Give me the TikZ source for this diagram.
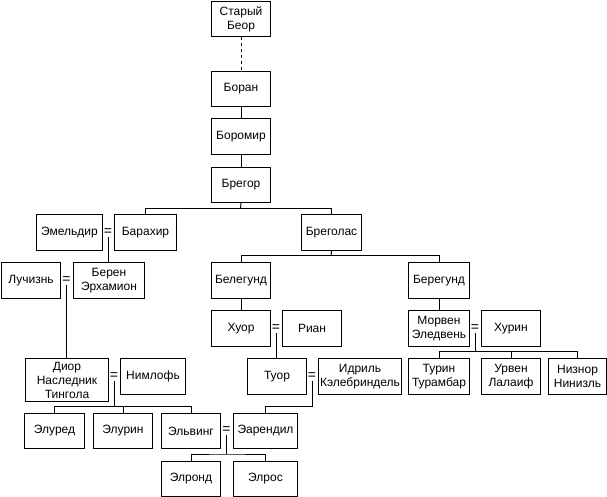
\documentclass[tikz,border=0pt]{standalone}
\usepackage{fontspec}
\setmainfont{Liberation Sans}
\begin{document}
\begin{tikzpicture}[x=1pt,y=-1pt,
  every node/.style={font=\fontsize{12}{14}\selectfont},
  box/.style={draw, line width=1pt, inner sep=0pt, anchor=north west, align=center},
  eqs/.style={inner sep=1pt, font=\fontsize{14}{14}\selectfont},
  conn/.style={line width=1pt}]
\useasboundingbox (0,0) rectangle (607,497);
\newcommand{\bx}[6]{\node[box, minimum width=#4pt, minimum height=#5pt] (#1) at (#2,#3) {#6};}
% x1 y1 width height
\bx{beor}{211}{1}{59}{35}{Старый\\Беор}
\bx{boran}{211}{71}{59}{35}{Боран}
\bx{boromir}{211}{118}{59}{36}{Боромир}
\bx{bregor}{211}{167}{59}{35}{Брегор}
\bx{emeldir}{36}{214}{66}{36}{Эмельдир}
\bx{barahir}{114}{214}{62}{36}{Барахир}
\bx{bregolas}{301}{214}{60}{36}{Бреголас}
\bx{luthien}{1}{262}{59}{36}{Лучизнь}
\bx{beren}{73}{262}{71}{36}{Берен\\Эрхамион}
\bx{belegund}{211}{262}{59}{36}{Белегунд}
\bx{beregund}{408}{262}{61}{36}{Берегунд}
\bx{huor}{211}{310}{59}{36}{Хуор}
\bx{rian}{282}{310}{59}{36}{Риан}
\bx{morwen}{408}{310}{61}{36}{Морвен\\Эледвень}
\bx{hurin}{481}{310}{59}{36}{Хурин}
\bx{dior}{25}{358}{83}{43}{Диор\\Наследник\\Тингола}
\bx{nimloth}{120}{358}{65}{36}{Нимлофь}
\bx{tuor}{247}{358}{59}{36}{Туор}
\bx{idril}{318}{358}{83}{36}{Идриль\\Кэлебриндель}
\bx{turin}{408}{358}{61}{36}{Турин\\Турамбар}
\bx{urwen}{481}{358}{59}{36}{Урвен\\Лалаиф}
\bx{nienor}{548}{358}{58}{36}{Низнор\\Нинизль}
\bx{elured}{24}{413}{60}{35}{Элуред}
\bx{elurin}{93}{413}{59}{35}{Элурин}
\bx{elwing}{161}{413}{59}{35}{Эльвинг}
\bx{earendil}{233}{413}{64}{35}{Эарендил}
\bx{elrond}{161}{461}{59}{35}{Элронд}
\bx{elros}{233}{461}{64}{35}{Элрос}
% equals signs
\node[eqs] (eq1) at (108,232) {=};
\node[eqs] (eq2) at (66.5,280) {=};
\node[eqs] (eq3) at (276,328) {=};
\node[eqs] (eq4) at (475,328) {=};
\node[eqs] (eq5) at (114,376) {=};
\node[eqs] (eq6) at (312,376) {=};
\node[eqs] (eq7) at (226.5,430) {=};
% junctions
\coordinate (j1) at (240.5,208.5);
\coordinate (j2) at (331,255.5);
\coordinate (j3) at (475,351.5);
\coordinate (j4) at (114,406.5);
\coordinate (j5) at (312,406.5);
\coordinate (j6) at (226.5,454);
% connectors
\draw[conn, dashed] (beor.south) -- (boran.north);
\draw[conn] (boran.south) -- (boromir.north);
\draw[conn] (boromir.south) -- (bregor.north);
\draw[conn] (bregor.south) -- (j1);
\draw[conn] (barahir.north) |- (j1) -| (bregolas.north);
\draw[conn] (eq1.south) -- (eq1.south |- beren.north);
\draw[conn] (eq2.south) -- (eq2.south |- dior.north);
\draw[conn] (bregolas.south) -- (j2);
\draw[conn] (belegund.north) |- (j2) -| (beregund.north);
\draw[conn] (belegund.south) -- (huor.north);
\draw[conn] (beregund.south) -- (morwen.north);
\draw[conn] (eq3.south) -- (eq3.south |- tuor.north);
\draw[conn] (eq4.south) -- (j3);
\draw[conn] (turin.north) |- (j3) -| (nienor.north);
\draw[conn] (urwen.north) -- (urwen.north |- j3);
\draw[conn] (eq5.south) -- (j4);
\draw[conn] (elured.north) |- (j4) -| (elwing.north);
\draw[conn] (elurin.north) -- (elurin.north |- j4);
\draw[conn] (eq6.south) -- (j5) -| (earendil.north);
\draw[conn] (eq7.south) -- (j6);
\draw[conn] (elrond.north) |- (j6) -| (elros.north);
\end{tikzpicture}
\end{document}
